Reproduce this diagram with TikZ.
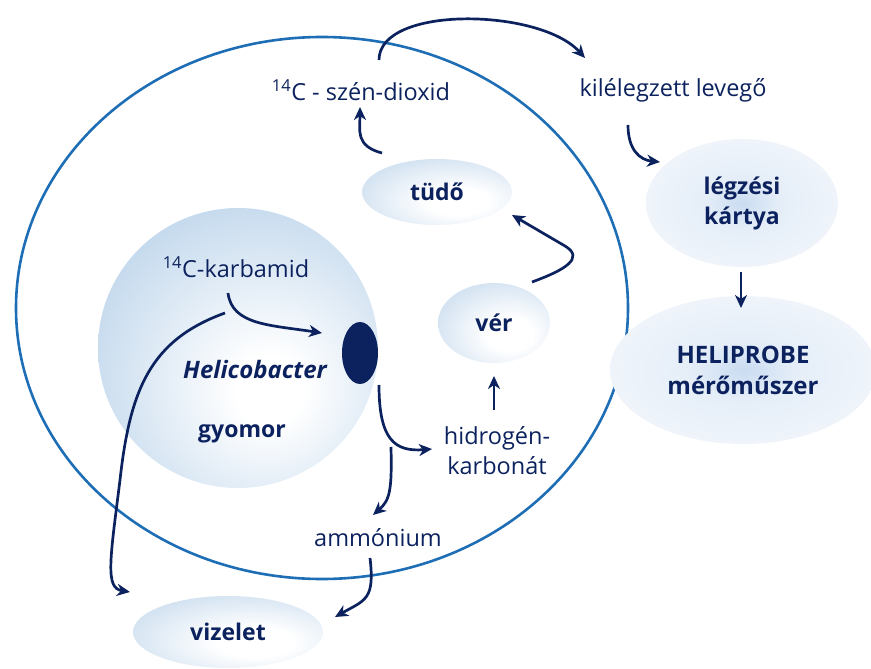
\documentclass[tikz,border=0pt]{standalone}
\usepackage{fontspec}
\setmainfont{Open Sans}
\usetikzlibrary{shapes.geometric,arrows.meta}
\definecolor{navy}{RGB}{12,34,94}
\definecolor{ringblue}{RGB}{30,110,182}
\definecolor{bubbleedge}{RGB}{178,205,231}
\definecolor{sphereedge}{RGB}{166,198,228}
\definecolor{haze}{RGB}{202,220,241}
\definecolor{hazemid}{RGB}{229,238,248}
\definecolor{hazeedge}{RGB}{242,246,251}
\pgfdeclareradialshading{bubbleshade}{\pgfpoint{8bp}{-8bp}}{color(0bp)=(white); color(10bp)=(white); color(50bp)=(bubbleedge); color(100bp)=(bubbleedge)}
\pgfdeclareradialshading{sphereshade}{\pgfpoint{6bp}{-8bp}}{color(0bp)=(white); color(6bp)=(white); color(46bp)=(sphereedge); color(100bp)=(sphereedge)}
\pgfdeclareradialshading{hazeshade}{\pgfpoint{0bp}{0bp}}{color(0bp)=(haze); color(10bp)=(hazemid); color(30bp)=(hazeedge); color(50bp)=(hazeedge!75!white); color(100bp)=(white)}
\begin{document}
\begin{tikzpicture}[x=1pt,y=-1pt,
  ring/.style={ellipse,draw=ringblue,line width=2.6pt},
  bubble/.style={ellipse,shading=bubbleshade},
  haze/.style={ellipse,shading=hazeshade},
  flow/.style={navy,line width=2.7pt,-{Stealth[length=13pt,width=12pt,inset=4pt]}},
  lbl/.style={text=navy,font=\fontsize{23.5}{30}\selectfont,align=center},
  blbl/.style={text=navy,font=\fontsize{23}{30}\selectfont\bfseries,align=center}]
\useasboundingbox (0,0) rectangle (871,669);
\node[ring,minimum width=612pt,minimum height=542pt] (body) at (322,308) {};
\node[circle,shading=sphereshade,minimum size=280pt] (stomach) at (238,348) {};
\node[ellipse,fill=navy,minimum width=36pt,minimum height=62pt] (helicobact) at (360,353) {};
\node[bubble,minimum width=150pt,minimum height=66pt] (tudo) at (437,192) {};
\node[bubble,minimum width=112pt,minimum height=80pt] (ver) at (494,323) {};
\node[bubble,minimum width=190pt,minimum height=72pt] (vizelet) at (228,632) {};
\node[haze,minimum width=192pt,minimum height=128pt] (kartya) at (742,203) {};
\node[haze,minimum width=266pt,minimum height=148pt] (meter) at (743,370) {};
\node[lbl] (co2) at (361,90) {\textsuperscript{14}C - szén-dioxid};
\node[lbl] (exhaled) at (673,90) {kilélegzett levegő};
\node[blbl] at (tudo) {tüdő};
\node[blbl] at (ver) {vér};
\node[blbl] at (vizelet) {vizelet};
\node[blbl] at (kartya) {légzési\\kártya};
\node[blbl,font=\fontsize{24}{31}\selectfont\bfseries] at (meter) {HELIPROBE\\mérőműszer};
\node[lbl] (urea) at (236,267) {\textsuperscript{14}C-karbamid};
\node[blbl,font=\fontsize{24}{30}\selectfont\bfseries\itshape] (helico) at (255,369) {Helicobacter};
\node[blbl] (gyomor) at (242,434) {gyomor};
\node[lbl] (bicarb) at (497,451) {hidrogén-\\karbonát};
\node[lbl] (ammon) at (378,538) {ammónium};
\coordinate (co2up) at (379,60);
\coordinate (exhaledin) at (585,58);
\coordinate (tudoout) at (382,153);
\coordinate (co2in) at (360,107);
\coordinate (exhaledout) at (628,125);
\coordinate (kartyain) at (660,162);
\coordinate (kartyaout) at (741,272);
\coordinate (meterin) at (741,308);
\coordinate (verout) at (532,282);
\coordinate (tudoin) at (512,215);
\coordinate (bicarbout) at (494,410);
\coordinate (verin) at (494,376);
\coordinate (helicoout) at (379,385);
\coordinate (bicarbin) at (432,449);
\coordinate (split) at (391,447);
\coordinate (ammonin) at (373,515);
\coordinate (ammonout) at (370,558);
\coordinate (vizeletin) at (335,617);
\coordinate (ureaout) at (228,293);
\coordinate (helicoin) at (322,333);
\coordinate (urinestart) at (225,313);
\coordinate (urineend) at (130,592);
\draw[flow] (co2up) .. controls (379,5) and (540,8) .. (exhaledin);
\draw[flow] (tudoout) .. controls (355,146) and (360,130) .. (co2in);
\draw[flow] (exhaledout) .. controls (628,150) and (640,160) .. (kartyain);
\draw[flow] (kartyaout) -- (meterin);
\draw[flow] (verout) .. controls (565,270) and (585,258) .. (565,246) -- (tudoin);
\draw[flow] (bicarbout) -- (verin);
\draw[flow] (helicoout) .. controls (379,440) and (395,452) .. (bicarbin);
\draw[flow] (split) .. controls (392,490) and (390,500) .. (ammonin);
\draw[flow] (ammonout) .. controls (375,600) and (365,600) .. (vizeletin);
\draw[flow] (ureaout) .. controls (232,325) and (270,325) .. (helicoin);
\draw[flow] (urinestart) .. controls (150,340) and (130,390) .. (120,480) .. controls (110,560) and (105,588) .. (urineend);
\end{tikzpicture}
\end{document}
